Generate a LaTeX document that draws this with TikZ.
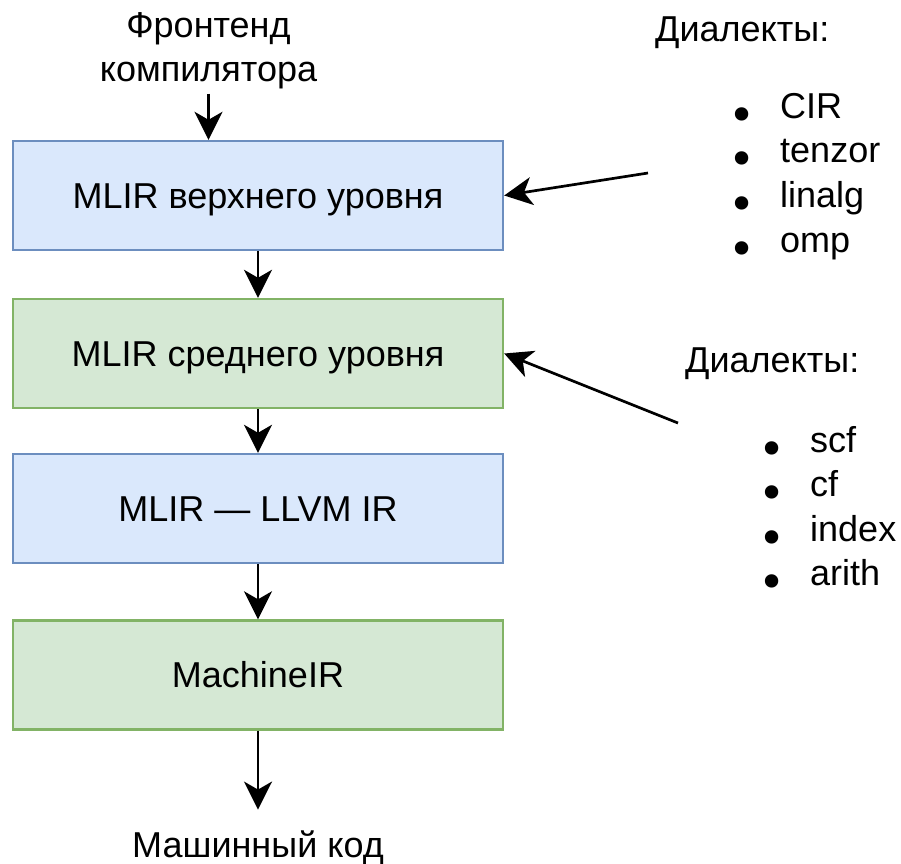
\documentclass[tikz,border=0pt]{standalone}
\usepackage{fontspec}
\setmainfont{Liberation Sans}
\newfontfamily\markfont{DejaVu Sans}
\usetikzlibrary{arrows.meta}
\definecolor{blueFill}{HTML}{DAE8FC}
\definecolor{blueLine}{HTML}{6C8EBF}
\definecolor{greenFill}{HTML}{D5E8D4}
\definecolor{greenLine}{HTML}{82B366}
\begin{document}
\begin{tikzpicture}[x=1pt,y=-1pt,
  every node/.style={font=\fontsize{36}{44.5}\selectfont, inner sep=0pt},
  stage/.style={draw, line width=2.4pt, minimum width=490pt, minimum height=109pt,
                text height=25.8pt, text depth=0pt},
  bluebox/.style={stage, fill=blueFill, draw=blueLine},
  greenbox/.style={stage, fill=greenFill, draw=greenLine},
  flow/.style={line width=2.7pt, -{Stealth[length=28pt,width=28pt,inset=8pt]}},
  marker/.style={anchor=base, font=\markfont\fontsize{46}{46}\selectfont},
  entry/.style={anchor=base west}]

\useasboundingbox (0,0) rectangle (901,863);

% pipeline stages
\node[bluebox]  (b1) at (258,195.5) {MLIR верхнего уровня};
\node[greenbox] (b2) at (258,353.5) {MLIR среднего уровня};
\node[bluebox]  (b3) at (258,508.5) {MLIR — LLVM IR};
\node[greenbox] (b4) at (258,675)   {MachineIR};

% input and output
\node[anchor=south, align=center] (src) at (208.5,89.6) {Фронтенд\\компилятора};
\node[anchor=base] (dst) at (258,857) {Машинный код};

% main flow
\draw[flow, shorten <=4pt] (src.south) -- (src.south |- b1.north);
\draw[flow] (b1.south) -- (b2.north);
\draw[flow] (b2.south) -- (b3.north);
\draw[flow] (b3.south) -- (b4.north);
\draw[flow, shorten >=20.5pt] (b4.south) -- (dst.north);

% dialects of the upper level
\node[entry] (d1) at (655,41) {Диалекты:};
\node[marker] (m11) at (742,131) {•};
\node[entry]  (e11) at (780,118) {CIR};
\node[marker] (m12) at (742,175.5) {•};
\node[entry]  (e12) at (780,162.5) {tenzor};
\node[marker] (m13) at (742,220) {•};
\node[entry]  (e13) at (780,207) {linalg};
\node[marker] (m14) at (742,265) {•};
\node[entry]  (e14) at (780,252) {omp};

% dialects of the middle level
\node[entry] (d2) at (685,372) {Диалекты:};
\node[marker] (m21) at (772,465) {•};
\node[entry]  (e21) at (810,452) {scf};
\node[marker] (m22) at (772,509.5) {•};
\node[entry]  (e22) at (810,496.5) {cf};
\node[marker] (m23) at (772,554) {•};
\node[entry]  (e23) at (810,541) {index};
\node[marker] (m24) at (772,598) {•};
\node[entry]  (e24) at (810,585) {arith};

% dialect arrows into the stages
\coordinate (t1) at (648,173);
\coordinate (t2) at (678,423);
\draw[flow] (t1) -- (b1.east);
\draw[flow] (t2) -- (b2.east);
\end{tikzpicture}
\end{document}
